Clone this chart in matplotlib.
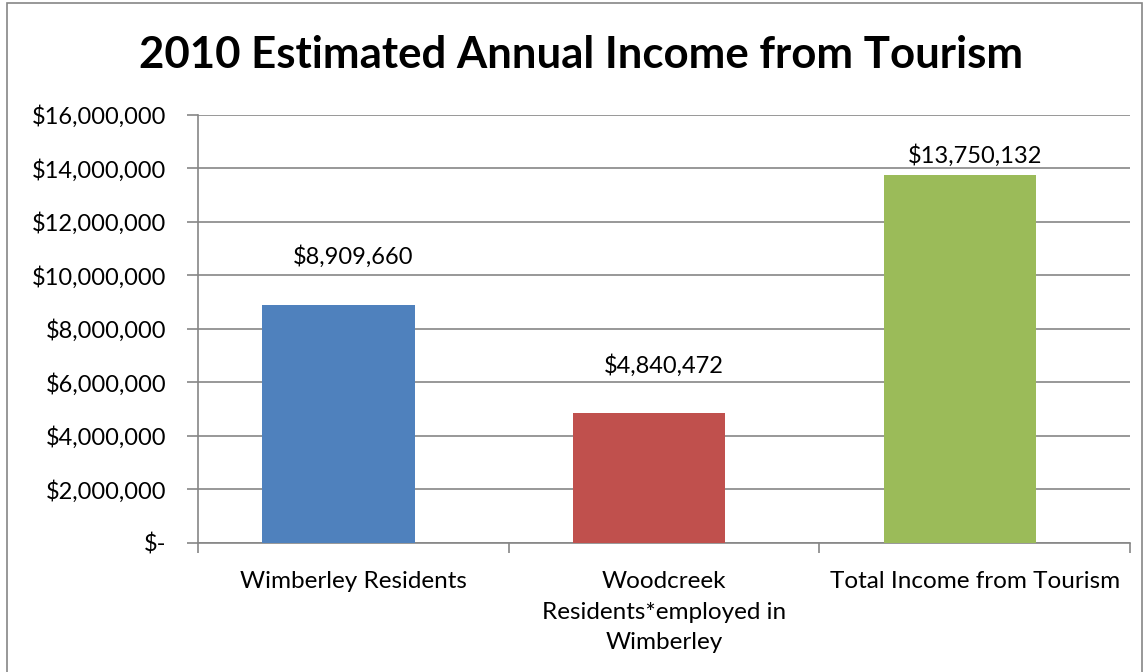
import matplotlib.pyplot as plt
from matplotlib.patches import Rectangle
from matplotlib.ticker import FuncFormatter

categories = ["Wimberley Residents",
              "Woodcreek\nResidents*employed in\nWimberley",
              "Total Income from Tourism"]
values = [8909660, 4840472, 13750132]
colors = ["#4f81bd", "#c0504d", "#9bbb59"]
title = "2010 Estimated Annual Income from Tourism"

plt.rcParams['font.family'] = ['Lato', 'DejaVu Sans']

fig = plt.figure(figsize=(11.47, 6.72), dpi=100)
ax = fig.add_axes([0.1726, 0.192, 0.8126, 0.637])

x = list(range(len(values)))
ax.bar([xi - 0.048 for xi in x], values, width=0.49, color=colors, zorder=3)

# the last label sits lower, just above its bar (under the plot top)
label_offsets = [37, 37, 8]
for xi, v, off in zip(x, values, label_offsets):
    ax.annotate("${:,.0f}".format(v), (xi, v), xytext=(0, off),
                textcoords='offset pixels', ha='center', va='bottom',
                fontsize=17, color='black')

ax.set_xlim(-0.5, 2.5)
ax.set_ylim(0, 16000000)
ax.set_yticks(range(0, 16000001, 2000000))

def fmt(v, pos):
    if v == 0:
        return "$-"
    return "${:,.0f}".format(v)

ax.yaxis.set_major_formatter(FuncFormatter(fmt))
ax.yaxis.grid(True, color='#868686', linewidth=1.2, zorder=0)
ax.set_axisbelow(True)

ax.set_xticks([-0.5, 0.5, 1.5, 2.5])
ax.set_xticklabels([])
ax.set_xticks([0, 1, 2], minor=True)
ax.set_xticklabels(categories, minor=True, fontsize=17.5, linespacing=1.58, va='top')
ax.tick_params(axis='x', which='minor', length=0, pad=20)
ax.tick_params(axis='x', which='major', length=7, color='#868686', width=1.2)
ax.tick_params(axis='y', length=8, color='#868686', width=1.2, labelsize=17, pad=15)

for s in ['top', 'right']:
    ax.spines[s].set_visible(False)
for s in ['left', 'bottom']:
    ax.spines[s].set_color('#868686')
    ax.spines[s].set_linewidth(1.2)

fig.text(0.507, 0.918, title, ha='center', va='center', fontsize=31.5, fontweight='bold')

fig.patches.append(Rectangle((0.006, -0.01), 0.99, 1.005, transform=fig.transFigure,
                             fill=False, edgecolor='#868686', linewidth=1.2))

fig.savefig("out.png", dpi=100)
